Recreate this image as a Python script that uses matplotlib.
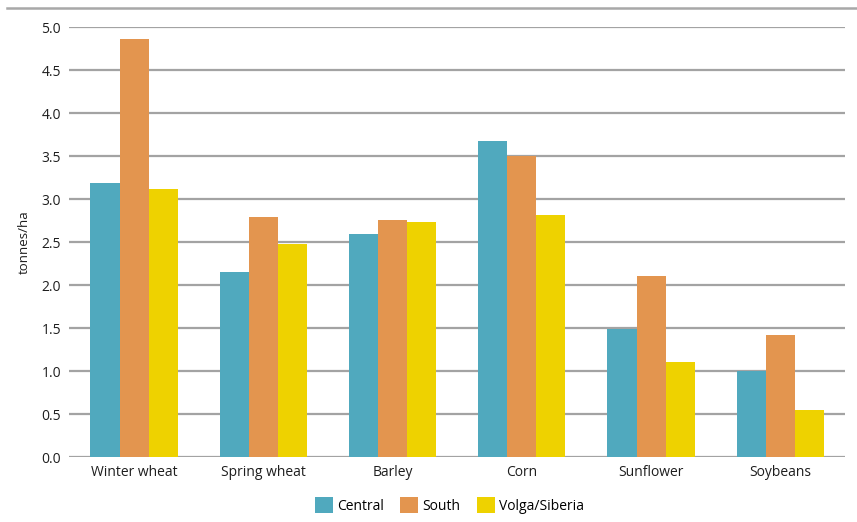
import matplotlib.pyplot as plt
import numpy as np
from matplotlib.lines import Line2D

plt.rcParams['font.family'] = ['Open Sans', 'DejaVu Sans']

crops = ['Winter wheat', 'Spring wheat', 'Barley', 'Corn', 'Sunflower', 'Soybeans']
central = [3.19, 2.15, 2.59, 3.67, 1.49, 1.00]
south = [4.86, 2.79, 2.76, 3.50, 2.10, 1.42]
volga = [3.12, 2.48, 2.73, 2.82, 1.10, 0.55]

series = [('Central', central, '#50a9be'),
          ('South', south, '#e3954f'),
          ('Volga/Siberia', volga, '#eed200')]

fig = plt.figure(figsize=(8.57, 5.22), dpi=100)
ax = fig.add_axes([0.081, 0.1245, 0.905, 0.8235])

x = np.arange(len(crops))
w = 0.225
for i, (name, vals, col) in enumerate(series):
    ax.bar(x + (i - 1) * w, vals, w, color=col, label=name, zorder=3)

ax.set_xlim(-0.5, len(crops) - 0.5)
ax.set_ylim(0, 5.0)
ax.set_yticks(np.arange(0, 5.01, 0.5))
ax.set_yticklabels([f'{v:.1f}' for v in np.arange(0, 5.01, 0.5)])
ax.set_xticks(x)
ax.set_xticklabels(crops)
ax.tick_params(length=0, labelsize=10, colors='#1e1e1e', pad=6)

ax.grid(axis='y', color='#a3a3a3', linewidth=1.6, zorder=0)
for s in ax.spines.values():
    s.set_visible(False)

ax.set_ylabel('tonnes/ha', fontsize=9.5, color='#1e1e1e', labelpad=8)

# rule across the top of the figure
fig.add_artist(Line2D([0.008, 1.0], [0.985, 0.985], color='#a8a8a8', linewidth=1.8,
                      transform=fig.transFigure))

ax.legend(loc='upper center', bbox_to_anchor=(0.49, -0.065), ncol=3, frameon=False,
          fontsize=10, handlelength=1.3, handleheight=1.3, columnspacing=1.2,
          handletextpad=0.3)

fig.savefig('out.png', dpi=100)
